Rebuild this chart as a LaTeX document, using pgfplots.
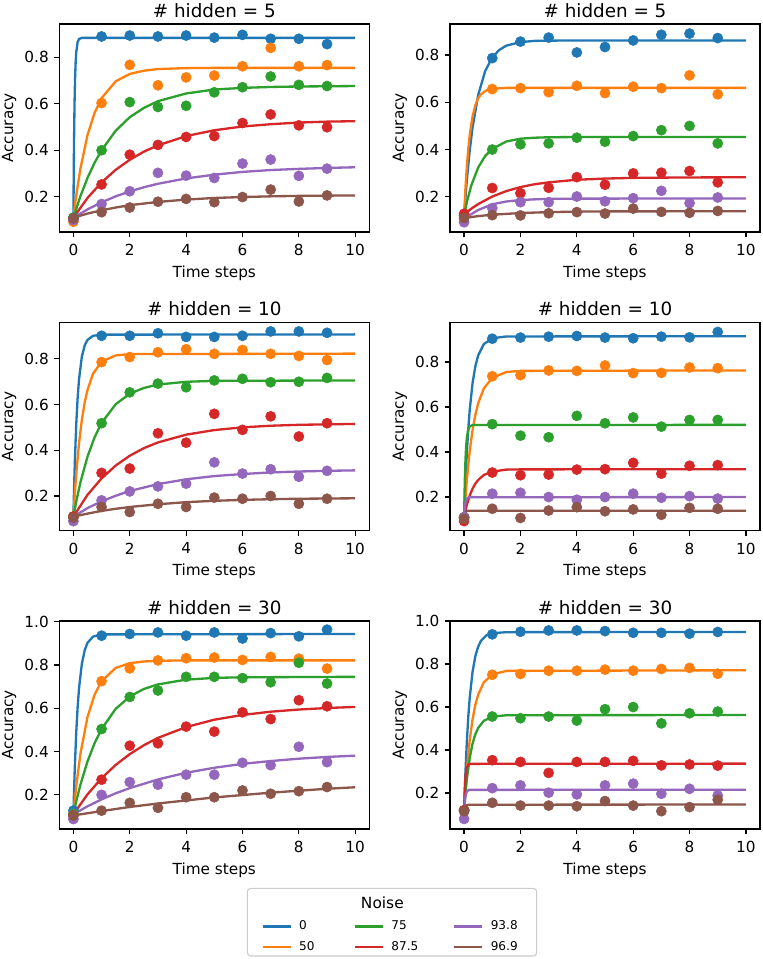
\documentclass[border=0pt]{standalone}
\usepackage{fontspec}
\setmainfont{DejaVu Sans}
\usepackage{pgfplots}
\pgfplotsset{compat=1.18}
\definecolor{c0}{HTML}{1F77B4}
\definecolor{c1}{HTML}{FF7F0E}
\definecolor{c2}{HTML}{2CA02C}
\definecolor{c3}{HTML}{D62728}
\definecolor{c4}{HTML}{9467BD}
\definecolor{c5}{HTML}{8C564B}
\pgfplotsset{
  panel/.style={scale only axis, width=223.2pt, height=149.8pt, anchor=south west,
    xmin=-0.5, xmax=10.5, xtick={0,2,4,6,8,10},
    tick align=outside, tick pos=left, major tick length=3.9pt,
    axis line style={line width=0.89pt},
    every tick/.style={black, line width=0.89pt},
    xlabel={Time steps}, ylabel={Accuracy},
    /pgf/number format/assume math mode=true,
    tick label style={font=\fontsize{11}{13}\selectfont},
    xticklabel style={inner sep=0pt, anchor=north, yshift=-4.7pt},
    yticklabel style={inner sep=0pt, anchor=east, xshift=-3.5pt, /pgf/number format/.cd, fixed, fixed zerofill, precision=1, assume math mode=true},
    every axis x label/.style={at={(axis description cs:0.5,0)}, anchor=base, yshift=-32.6pt, font=\fontsize{11}{13}\selectfont, inner sep=0pt},
    every axis y label/.style={at={(axis description cs:-0.1617,0.5)}, rotate=90, anchor=center, font=\fontsize{11}{13}\selectfont, inner sep=0pt},
    every axis title shift=0pt,
    title style={font=\fontsize{13.2}{15}\selectfont, at={(0.5,1)}, anchor=base, inner sep=0pt, yshift=4.75pt}},
  dots/.style={only marks, mark=*, mark size=3.65pt, color=#1, mark options={draw=#1, fill=#1}},
  fit/.style={no marks, color=#1, line width=1.67pt},
  legcol/.style={hide axis, scale only axis, width=1pt, height=1pt, xmin=0, xmax=1, ymin=0, ymax=1,
    anchor=south west, legend columns=1,
    legend image code/.code={\draw[##1] (0pt,0pt) -- (20.2pt,0pt);},
    legend style={at={(0,0)}, anchor=north west, draw=none, fill=none, inner sep=0pt,
      font=\fontsize{8.7}{10}\selectfont, column sep=4.2pt, row sep=5.35pt,
      nodes={inner sep=1pt, text height=6pt, text depth=1.5pt}},
    legend cell align=left},
}
\begin{document}
\begin{tikzpicture}
\useasboundingbox (0,0) rectangle (548.64pt,-690.48pt);
% ---------------- P1
\begin{axis}[panel, at={(42.7pt,-167.0pt)}, ymin=0.049, ymax=0.943, ytick={0.2,0.4,0.6,0.8}, title={\# hidden = 5}]
\addplot[dots=c0] coordinates {(0,0.110)(1,0.889)(2,0.893)(3,0.889)(4,0.893)(5,0.884)(6,0.896)(7,0.879)(8,0.879)(9,0.856)};
\addplot[fit=c0] coordinates {(0,0.110)(0.02,0.414)(0.04,0.599)(0.06,0.711)(0.08,0.778)(0.1,0.820)(0.15,0.865)(0.2,0.878)(0.3,0.883)(10,0.883)};
\addplot[dots=c1] coordinates {(0,0.093)(1,0.603)(2,0.767)(3,0.679)(4,0.713)(5,0.721)(6,0.761)(7,0.840)(8,0.761)(9,0.766)};
\addplot[fit=c1] coordinates {(0,0.110)(0.1,0.205)(0.25,0.322)(0.5,0.465)(0.75,0.560)(1,0.624)(1.5,0.696)(2,0.728)(2.5,0.742)(3,0.749)(4,0.753)(5,0.754)(10,0.754)};
\addplot[dots=c2] coordinates {(0,0.110)(1,0.400)(2,0.607)(3,0.586)(4,0.591)(5,0.649)(6,0.671)(7,0.717)(8,0.681)(9,0.676)};
\addplot[fit=c2] coordinates {(0,0.110)(0.25,0.203)(0.5,0.281)(0.75,0.346)(1,0.400)(1.5,0.484)(2,0.542)(2.5,0.582)(3,0.611)(4,0.644)(5,0.661)(6,0.668)(7,0.672)(8,0.674)(10,0.676)};
\addplot[dots=c3] coordinates {(0,0.105)(1,0.253)(2,0.381)(3,0.423)(4,0.457)(5,0.461)(6,0.517)(7,0.554)(8,0.507)(9,0.499)};
\addplot[fit=c3] coordinates {(0,0.110)(0.5,0.195)(1,0.262)(1.5,0.316)(2,0.359)(2.5,0.394)(3,0.421)(4,0.461)(5,0.486)(6,0.502)(7,0.512)(8,0.519)(9,0.523)(10,0.525)};
\addplot[dots=c4] coordinates {(0,0.100)(1,0.169)(2,0.224)(3,0.303)(4,0.291)(5,0.281)(6,0.343)(7,0.360)(8,0.290)(9,0.321)};
\addplot[fit=c4] coordinates {(0,0.110)(0.5,0.146)(1,0.176)(1.5,0.202)(2,0.223)(2.5,0.241)(3,0.256)(4,0.279)(5,0.295)(6,0.307)(7,0.315)(8,0.320)(9,0.324)(10,0.327)};
\addplot[dots=c5] coordinates {(0,0.107)(1,0.134)(2,0.154)(3,0.179)(4,0.191)(5,0.177)(6,0.199)(7,0.231)(8,0.180)(9,0.206)};
\addplot[fit=c5] coordinates {(0,0.110)(0.5,0.128)(1,0.142)(1.5,0.154)(2,0.164)(3,0.178)(4,0.188)(5,0.195)(6,0.199)(7,0.202)(8,0.204)(10,0.206)};
\end{axis}
% ---------------- P2
\begin{axis}[panel, at={(324.0pt,-167.0pt)}, ymin=0.051, ymax=0.932, ytick={0.2,0.4,0.6,0.8}, title={\# hidden = 5}]
\addplot[dots=c0] coordinates {(0,0.12)(1,0.787)(2,0.857)(3,0.874)(4,0.811)(5,0.834)(6,0.862)(7,0.886)(8,0.891)(9,0.872)};
\addplot[fit=c0] coordinates {(0,0.120)(0.1,0.274)(0.2,0.396)(0.3,0.493)(0.5,0.631)(0.75,0.733)(1,0.790)(1.25,0.822)(1.5,0.840)(2,0.855)(2.5,0.860)(3,0.861)(4,0.862)(10,0.862)};
\addplot[dots=c1] coordinates {(0,0.12)(1,0.656)(2,0.660)(3,0.643)(4,0.670)(5,0.639)(6,0.666)(7,0.660)(8,0.714)(9,0.634)};
\addplot[fit=c1] coordinates {(0,0.120)(0.05,0.240)(0.1,0.333)(0.15,0.405)(0.2,0.462)(0.3,0.540)(0.4,0.588)(0.5,0.617)(0.6,0.634)(0.8,0.651)(1,0.657)(1.5,0.661)(10,0.661)};
\addplot[dots=c2] coordinates {(0,0.12)(1,0.400)(2,0.422)(3,0.426)(4,0.450)(5,0.433)(6,0.457)(7,0.482)(8,0.500)(9,0.426)};
\addplot[fit=c2] coordinates {(0,0.120)(0.1,0.178)(0.25,0.246)(0.5,0.324)(0.75,0.373)(1,0.403)(1.5,0.434)(2,0.446)(2.5,0.450)(3,0.452)(4,0.453)(10,0.453)};
\addplot[dots=c3] coordinates {(0,0.128)(1,0.237)(2,0.215)(3,0.238)(4,0.283)(5,0.251)(6,0.299)(7,0.302)(8,0.309)(9,0.261)};
\addplot[fit=c3] coordinates {(0,0.125)(0.25,0.149)(0.5,0.169)(1,0.201)(1.5,0.224)(2,0.241)(2.5,0.253)(3,0.261)(4,0.272)(5,0.277)(6,0.280)(7,0.281)(10,0.283)};
\addplot[dots=c4] coordinates {(0,0.092)(1,0.152)(2,0.177)(3,0.177)(4,0.201)(5,0.181)(6,0.194)(7,0.225)(8,0.173)(9,0.197)};
\addplot[fit=c4] coordinates {(0,0.100)(0.25,0.126)(0.5,0.144)(1,0.168)(1.5,0.180)(2,0.186)(2.5,0.189)(3,0.191)(4,0.192)(10,0.193)};
\addplot[dots=c5] coordinates {(0,0.110)(1,0.122)(2,0.121)(3,0.130)(4,0.135)(5,0.129)(6,0.150)(7,0.136)(8,0.132)(9,0.140)};
\addplot[fit=c5] coordinates {(0,0.110)(0.5,0.118)(1,0.124)(2,0.131)(3,0.135)(4,0.137)(5,0.138)(6,0.138)(10,0.139)};
\end{axis}
% ---------------- P3
\begin{axis}[panel, at={(42.7pt,-382.0pt)}, ymin=0.049, ymax=0.958, ytick={0.2,0.4,0.6,0.8}, title={\# hidden = 10}]
\addplot[dots=c0] coordinates {(0,0.11)(1,0.900)(2,0.900)(3,0.911)(4,0.895)(5,0.895)(6,0.900)(7,0.919)(8,0.919)(9,0.913)};
\addplot[fit=c0] coordinates {(0,0.110)(0.025,0.238)(0.05,0.345)(0.1,0.511)(0.15,0.628)(0.2,0.710)(0.3,0.809)(0.4,0.858)(0.5,0.882)(0.7,0.900)(1,0.905)(10,0.906)};
\addplot[dots=c1] coordinates {(0,0.11)(1,0.785)(2,0.807)(3,0.828)(4,0.841)(5,0.821)(6,0.838)(7,0.821)(8,0.812)(9,0.794)};
\addplot[fit=c1] coordinates {(0,0.110)(0.05,0.209)(0.1,0.295)(0.2,0.431)(0.3,0.533)(0.4,0.608)(0.5,0.663)(0.7,0.735)(1,0.787)(1.5,0.814)(2,0.820)(10,0.822)};
\addplot[dots=c2] coordinates {(0,0.11)(1,0.518)(2,0.653)(3,0.691)(4,0.675)(5,0.705)(6,0.712)(7,0.697)(8,0.699)(9,0.716)};
\addplot[fit=c2] coordinates {(0,0.110)(0.1,0.175)(0.25,0.260)(0.5,0.372)(0.75,0.456)(1,0.519)(1.5,0.601)(2,0.647)(2.5,0.672)(3,0.687)(4,0.699)(5,0.703)(10,0.705)};
\addplot[dots=c3] coordinates {(0,0.11)(1,0.301)(2,0.320)(3,0.474)(4,0.433)(5,0.559)(6,0.489)(7,0.548)(8,0.460)(9,0.518)};
\addplot[fit=c3] coordinates {(0,0.110)(0.5,0.205)(1,0.277)(1.5,0.333)(2,0.376)(2.5,0.409)(3,0.434)(4,0.468)(5,0.488)(6,0.500)(7,0.507)(8,0.511)(10,0.515)};
\addplot[dots=c4] coordinates {(0,0.09)(1,0.181)(2,0.220)(3,0.242)(4,0.254)(5,0.347)(6,0.298)(7,0.317)(8,0.284)(9,0.310)};
\addplot[fit=c4] coordinates {(0,0.110)(0.5,0.147)(1,0.177)(1.5,0.201)(2,0.222)(3,0.252)(4,0.273)(5,0.287)(6,0.296)(7,0.303)(8,0.307)(9,0.310)(10,0.312)};
\addplot[dots=c5] coordinates {(0,0.105)(1,0.152)(2,0.130)(3,0.166)(4,0.152)(5,0.193)(6,0.188)(7,0.200)(8,0.166)(9,0.188)};
\addplot[fit=c5] coordinates {(0,0.110)(0.5,0.123)(1,0.135)(1.5,0.144)(2,0.152)(3,0.164)(4,0.173)(5,0.179)(6,0.183)(7,0.186)(8,0.188)(10,0.190)};
\end{axis}
% ---------------- P4
\begin{axis}[panel, at={(324.0pt,-382.0pt)}, ymin=0.051, ymax=0.976, ytick={0.2,0.4,0.6,0.8}, title={\# hidden = 10}]
\addplot[dots=c0] coordinates {(0,0.11)(1,0.904)(2,0.909)(3,0.913)(4,0.916)(5,0.909)(6,0.906)(7,0.913)(8,0.910)(9,0.934)};
\addplot[fit=c0] coordinates {(0,0.110)(0.05,0.272)(0.1,0.402)(0.15,0.505)(0.2,0.588)(0.3,0.706)(0.4,0.782)(0.5,0.830)(0.7,0.880)(1,0.906)(1.5,0.914)(10,0.915)};
\addplot[dots=c1] coordinates {(0,0.11)(1,0.737)(2,0.742)(3,0.763)(4,0.761)(5,0.785)(6,0.751)(7,0.752)(8,0.776)(9,0.773)};
\addplot[fit=c1] coordinates {(0,0.110)(0.05,0.201)(0.1,0.279)(0.2,0.405)(0.3,0.498)(0.4,0.566)(0.5,0.617)(0.7,0.683)(1,0.730)(1.5,0.756)(2,0.761)(10,0.763)};
\addplot[dots=c2] coordinates {(0,0.11)(1,0.524)(2,0.473)(3,0.466)(4,0.561)(5,0.528)(6,0.554)(7,0.513)(8,0.543)(9,0.543)};
\addplot[fit=c2] coordinates {(0,0.110)(0.025,0.272)(0.05,0.370)(0.075,0.429)(0.1,0.465)(0.15,0.501)(0.2,0.514)(0.3,0.520)(10,0.521)};
\addplot[dots=c3] coordinates {(0,0.093)(1,0.309)(2,0.297)(3,0.300)(4,0.322)(5,0.324)(6,0.352)(7,0.304)(8,0.339)(9,0.342)};
\addplot[fit=c3] coordinates {(0,0.110)(0.05,0.140)(0.1,0.166)(0.2,0.207)(0.3,0.237)(0.4,0.260)(0.5,0.276)(0.7,0.298)(1,0.313)(1.5,0.322)(2,0.323)(10,0.324)};
\addplot[dots=c4] coordinates {(0,0.11)(1,0.215)(2,0.219)(3,0.200)(4,0.188)(5,0.200)(6,0.215)(7,0.197)(8,0.204)(9,0.193)};
\addplot[fit=c4] coordinates {(0,0.110)(0.02,0.145)(0.04,0.167)(0.06,0.180)(0.08,0.188)(0.1,0.193)(0.15,0.198)(0.2,0.199)(10,0.200)};
\addplot[dots=c5] coordinates {(0,0.103)(1,0.148)(2,0.107)(3,0.140)(4,0.155)(5,0.137)(6,0.145)(7,0.121)(8,0.152)(9,0.148)};
\addplot[fit=c5] coordinates {(0,0.110)(0.02,0.123)(0.04,0.130)(0.06,0.134)(0.1,0.138)(0.15,0.139)(10,0.139)};
\end{axis}
% ---------------- P5
\begin{axis}[panel, at={(42.7pt,-596.9pt)}, ymin=0.042, ymax=1.003, ytick={0.2,0.4,0.6,0.8,1.0}, title={\# hidden = 30}]
\addplot[dots=c0] coordinates {(0,0.127)(1,0.935)(2,0.943)(3,0.950)(4,0.935)(5,0.950)(6,0.922)(7,0.947)(8,0.932)(9,0.963)};
\addplot[fit=c0] coordinates {(0,0.110)(0.025,0.226)(0.05,0.326)(0.1,0.486)(0.15,0.604)(0.2,0.692)(0.3,0.805)(0.4,0.867)(0.5,0.902)(0.7,0.931)(1,0.941)(10,0.943)};
\addplot[dots=c1] coordinates {(0,0.111)(1,0.725)(2,0.784)(3,0.821)(4,0.831)(5,0.834)(6,0.823)(7,0.837)(8,0.829)(9,0.783)};
\addplot[fit=c1] coordinates {(0,0.110)(0.1,0.239)(0.25,0.390)(0.5,0.559)(0.75,0.662)(1,0.725)(1.5,0.786)(2,0.808)(2.5,0.816)(3,0.819)(4,0.821)(10,0.821)};
\addplot[dots=c2] coordinates {(0,0.11)(1,0.504)(2,0.652)(3,0.682)(4,0.745)(5,0.745)(6,0.739)(7,0.720)(8,0.810)(9,0.714)};
\addplot[fit=c2] coordinates {(0,0.110)(0.1,0.169)(0.25,0.247)(0.5,0.354)(0.75,0.438)(1,0.504)(1.5,0.597)(2,0.654)(2.5,0.689)(3,0.710)(4,0.732)(5,0.740)(6,0.743)(10,0.745)};
\addplot[dots=c3] coordinates {(0,0.105)(1,0.270)(2,0.427)(3,0.438)(4,0.515)(5,0.492)(6,0.581)(7,0.550)(8,0.637)(9,0.609)};
\addplot[fit=c3] coordinates {(0,0.110)(0.5,0.202)(1,0.277)(1.5,0.338)(2,0.388)(2.5,0.429)(3,0.463)(4,0.513)(5,0.547)(6,0.569)(7,0.584)(8,0.594)(9,0.601)(10,0.606)};
\addplot[dots=c4] coordinates {(0,0.088)(1,0.200)(2,0.259)(3,0.247)(4,0.293)(5,0.293)(6,0.348)(7,0.337)(8,0.422)(9,0.351)};
\addplot[fit=c4] coordinates {(0,0.110)(0.5,0.147)(1,0.179)(1.5,0.207)(2,0.231)(3,0.271)(4,0.302)(5,0.325)(6,0.343)(7,0.356)(8,0.367)(9,0.375)(10,0.381)};
\addplot[dots=c5] coordinates {(0,0.104)(1,0.127)(2,0.163)(3,0.140)(4,0.189)(5,0.189)(6,0.220)(7,0.205)(8,0.217)(9,0.236)};
\addplot[fit=c5] coordinates {(0,0.105)(1,0.125)(2,0.144)(3,0.160)(4,0.174)(5,0.188)(6,0.199)(7,0.210)(8,0.219)(9,0.228)(10,0.235)};
\end{axis}
% ---------------- P6
\begin{axis}[panel, at={(324.0pt,-596.9pt)}, ymin=0.033, ymax=1.0, ytick={0.2,0.4,0.6,0.8,1.0}, title={\# hidden = 30}]
\addplot[dots=c0] coordinates {(0,0.12)(1,0.938)(2,0.950)(3,0.956)(4,0.956)(5,0.953)(6,0.945)(7,0.945)(8,0.941)(9,0.949)};
\addplot[fit=c0] coordinates {(0,0.120)(0.05,0.303)(0.1,0.446)(0.15,0.557)(0.2,0.644)(0.3,0.764)(0.4,0.837)(0.5,0.881)(0.6,0.908)(0.8,0.934)(1,0.943)(1.5,0.948)(10,0.949)};
\addplot[dots=c1] coordinates {(0,0.12)(1,0.750)(2,0.754)(3,0.769)(4,0.769)(5,0.774)(6,0.769)(7,0.777)(8,0.782)(9,0.755)};
\addplot[fit=c1] coordinates {(0,0.120)(0.05,0.225)(0.1,0.312)(0.2,0.448)(0.3,0.543)(0.4,0.611)(0.5,0.658)(0.7,0.715)(1,0.751)(1.5,0.768)(10,0.771)};
\addplot[dots=c2] coordinates {(0,0.12)(1,0.556)(2,0.548)(3,0.556)(4,0.537)(5,0.590)(6,0.600)(7,0.524)(8,0.571)(9,0.579)};
\addplot[fit=c2] coordinates {(0,0.120)(0.05,0.200)(0.1,0.266)(0.2,0.364)(0.3,0.430)(0.4,0.474)(0.5,0.503)(0.7,0.536)(1,0.555)(1.5,0.562)(10,0.563)};
\addplot[dots=c3] coordinates {(0,0.12)(1,0.353)(2,0.345)(3,0.294)(4,0.345)(5,0.345)(6,0.350)(7,0.329)(8,0.333)(9,0.328)};
\addplot[fit=c3] coordinates {(0,0.120)(0.02,0.205)(0.04,0.257)(0.06,0.289)(0.08,0.308)(0.1,0.319)(0.15,0.332)(0.2,0.336)(10,0.337)};
\addplot[dots=c4] coordinates {(0,0.080)(1,0.223)(2,0.236)(3,0.202)(4,0.194)(5,0.236)(6,0.244)(7,0.197)(8,0.220)(9,0.189)};
\addplot[fit=c4] coordinates {(0,0.110)(0.02,0.152)(0.04,0.177)(0.06,0.192)(0.08,0.202)(0.1,0.207)(0.15,0.214)(0.2,0.215)(10,0.216)};
\addplot[dots=c5] coordinates {(0,0.116)(1,0.155)(2,0.142)(3,0.142)(4,0.139)(5,0.163)(6,0.142)(7,0.116)(8,0.135)(9,0.169)};
\addplot[fit=c5] coordinates {(0,0.116)(0.02,0.128)(0.04,0.136)(0.06,0.140)(0.1,0.144)(0.15,0.146)(10,0.147)};
\end{axis}
% ---------------- Legend
\draw[rounded corners=2.5pt, draw=black!20, line width=0.8pt, fill=white] (178.1pt,-639.6pt) rectangle (386.4pt,-688.3pt);
\node[font=\fontsize{11.1}{13}\selectfont, anchor=base, inner sep=0pt] at (275.3pt,-654pt) {Noise};
\begin{axis}[legcol, at={(188.1pt,-662.1pt)}]
\addlegendimage{c0, line width=1.67pt}\addlegendentry{0}
\addlegendimage{c1, line width=1.67pt}\addlegendentry{50}
\end{axis}
\begin{axis}[legcol, at={(254.6pt,-662.1pt)}]
\addlegendimage{c2, line width=1.67pt}\addlegendentry{75}
\addlegendimage{c3, line width=1.67pt}\addlegendentry{87.5}
\end{axis}
\begin{axis}[legcol, at={(326.1pt,-662.1pt)}]
\addlegendimage{c4, line width=1.67pt}\addlegendentry{93.8}
\addlegendimage{c5, line width=1.67pt}\addlegendentry{96.9}
\end{axis}
\end{tikzpicture}
\end{document}
